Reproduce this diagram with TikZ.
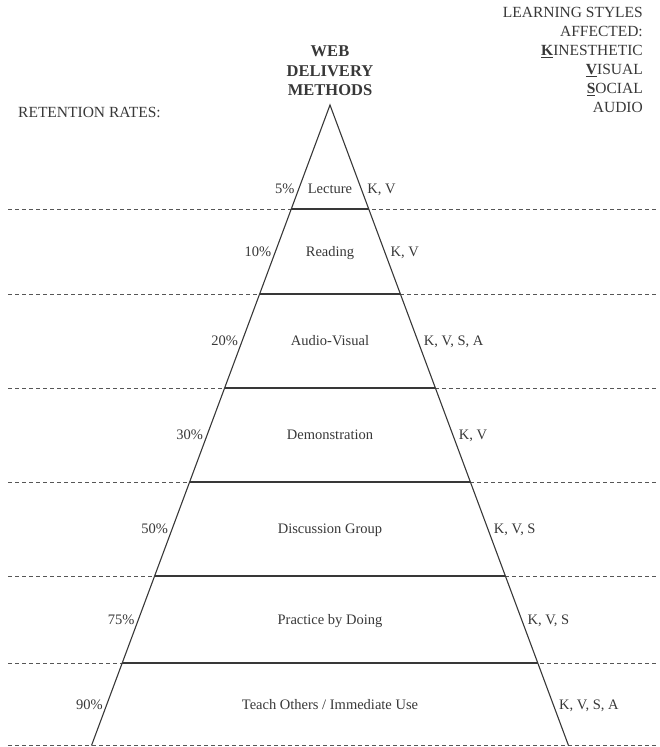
\documentclass[tikz,border=0pt]{standalone}
\usepackage{fontspec}
\setmainfont{Liberation Serif}
\definecolor{ink}{HTML}{383838}

\begin{document}
\begin{tikzpicture}[x=1pt,y=-1pt,
  edge/.style={ink,line width=1.1pt},
  tier/.style={ink,line width=1.5pt},
  guide/.style={ink!85,line width=.7pt,dash pattern=on 3.5pt off 3.5pt},
  lbl/.style={ink,inner sep=0,font=\fontsize{14.5}{17}\selectfont}]
\useasboundingbox (0,0) rectangle (659,747);

\foreach \yy in {209,294,388,482,576,663,745.5}
  \draw [guide] (8,\yy) to (656,\yy);

\coordinate (apex) at (330,105);
\coordinate (bl) at (91.5,745.5);
\coordinate (br) at (568.5,745.5);
\draw [edge] (bl) to (apex) to (br);

\foreach \yy in {209,294,388,482,576,663}
  \draw [tier] ({330-.372*(\yy-105)},\yy) to ({330+.372*(\yy-105)},\yy);

\foreach \yy/\pc/\mth/\sty in {189/5\%/Lecture/{K, V},
    251.5/10\%/Reading/{K, V}, 341/20\%/Audio-Visual/{K, V, S, A},
    435/30\%/Demonstration/{K, V}, 529/50\%/Discussion Group/{K, V, S},
    619.5/75\%/Practice by Doing/{K, V, S},
    704.5/90\%/{Teach Others / Immediate Use}/{K, V, S, A}}{
  \pgfmathsetmacro\hw{.372*(\yy-105)}
  \node [lbl,anchor=base east] (rate\yy) at ({326-\hw},\yy+4.8) {\pc};
  \node [lbl,anchor=base] (method\yy) at (330,\yy+4.8) {\mth};
  \node [lbl,anchor=base west] (style\yy) at ({336+\hw},\yy+4.8) {\sty};
}

\node [ink,inner sep=0,anchor=base west,font=\fontsize{15.5}{18}\selectfont]
  (rates) at (18,117) {RETENTION RATES:};
\node [ink,inner sep=0,anchor=north,align=center,
  font=\fontsize{16.5}{19.5}\selectfont\bfseries]
  (web) at (330,45.5) {WEB\\DELIVERY\\METHODS};
\node [ink,inner sep=0,anchor=north east,align=right,
  font=\fontsize{15.5}{19}\selectfont]
  (styles) at (643,7.5) {LEARNING STYLES\\AFFECTED:\\\underline{\textbf{K}}INESTHETIC\\
  \underline{\textbf{V}}ISUAL\\\underline{\textbf{S}}OCIAL\\AUDIO};
\end{tikzpicture}
\end{document}
